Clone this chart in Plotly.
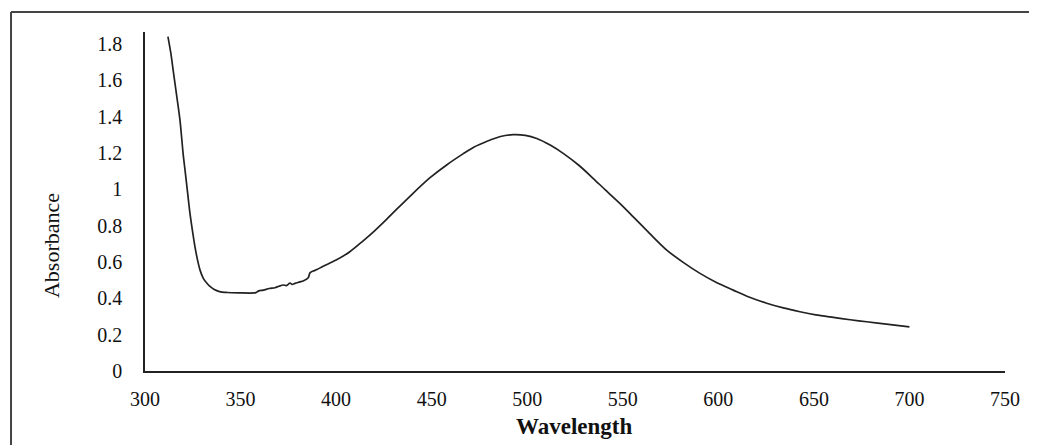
import plotly.graph_objects as go

wavelength = [312, 313.5, 314.8, 316.5, 318.3, 320, 321, 322.3, 323.5, 325, 326.2, 327.5,
              328.8, 330.5, 332.3, 334, 336, 339, 343, 349, 358, 359.5, 362, 365, 368, 370,
              372.4, 374, 375.9, 377, 378.5, 381, 383, 385.5, 386.3, 388, 390, 393, 397,
              400, 407, 414, 420, 426, 432, 440, 449, 458, 466.6, 472, 479, 486, 492.7,
              499, 505, 512, 519, 527, 534.6, 541, 548.6, 555.5, 564, 573, 582, 590.4,
              599, 607.8, 616, 625.3, 634, 642.7, 651, 660.2, 669, 677.6, 689, 700]
absorbance = [1.84, 1.75, 1.65, 1.52, 1.38, 1.19, 1.10, 0.98, 0.87, 0.76, 0.68, 0.61,
              0.555, 0.51, 0.484, 0.465, 0.45, 0.437, 0.432, 0.430, 0.431, 0.441, 0.445,
              0.454, 0.458, 0.466, 0.473, 0.47, 0.484, 0.476, 0.482, 0.49, 0.497, 0.515,
              0.540, 0.55, 0.558, 0.575, 0.595, 0.61, 0.655, 0.715, 0.77, 0.83, 0.893, 0.975,
              1.062, 1.135, 1.196, 1.231, 1.264, 1.29, 1.30, 1.296, 1.279, 1.243, 1.196,
              1.132, 1.059, 0.995, 0.921, 0.848, 0.757, 0.665, 0.595, 0.537, 0.487, 0.445,
              0.407, 0.373, 0.347, 0.326, 0.309, 0.295, 0.282, 0.271, 0.257, 0.243]

x_ticks = [300, 350, 400, 450, 500, 550, 600, 650, 700, 750]
y_ticks = [0, 0.2, 0.4, 0.6, 0.8, 1, 1.2, 1.4, 1.6, 1.8]
y_tick_text = ["0", "0.2", "0.4", "0.6", "0.8", "1", "1.2", "1.4", "1.6", "1.8"]

FONT = "Liberation Serif, Times New Roman, serif"

fig = go.Figure()
fig.add_trace(go.Scatter(x=wavelength, y=absorbance, mode="lines",
                         line=dict(color="#222222", width=1.7, shape="spline", smoothing=0.8),
                         showlegend=False, hoverinfo="x+y"))

fig.update_layout(
    width=1037, height=445,
    margin=dict(l=137, r=40, t=24, b=82),
    paper_bgcolor="white", plot_bgcolor="white",
    font=dict(family=FONT, size=20, color="#111111"),
    xaxis=dict(range=[300, 750], tickvals=x_ticks, showgrid=False, zeroline=False,
               showline=True, linecolor="#222222", linewidth=1.5, ticks="",
               ticklabelstandoff=9, tickfont=dict(family=FONT, size=20, color="#111111")),
    yaxis=dict(range=[0, 1.865], tickvals=y_ticks, ticktext=y_tick_text, showgrid=False,
               zeroline=False, showline=True, linecolor="#222222", linewidth=1.5, ticks="",
               ticklabelstandoff=17, tickfont=dict(family=FONT, size=20, color="#111111")),
    annotations=[
        dict(text="Absorbance", xref="paper", yref="paper", x=-0.108, y=0.369,
             textangle=-90, showarrow=False, font=dict(family=FONT, size=22, color="#111111"),
             xanchor="center", yanchor="middle"),
        dict(text="<b>Wavelength</b>", xref="paper", yref="paper", x=0.499, y=-0.165,
             showarrow=False, font=dict(family=FONT, size=23, color="#111111"),
             xanchor="center", yanchor="middle"),
    ],
    shapes=[
        dict(type="line", xref="paper", yref="paper", x0=-0.1558, x1=-0.1558, y0=1.059, y1=-0.25,
             line=dict(color="#444444", width=2)),
        dict(type="line", xref="paper", yref="paper", x0=-0.1558, x1=1.05, y0=1.059, y1=1.059,
             line=dict(color="#444444", width=2)),
    ],
)

fig.write_html("out.html")
